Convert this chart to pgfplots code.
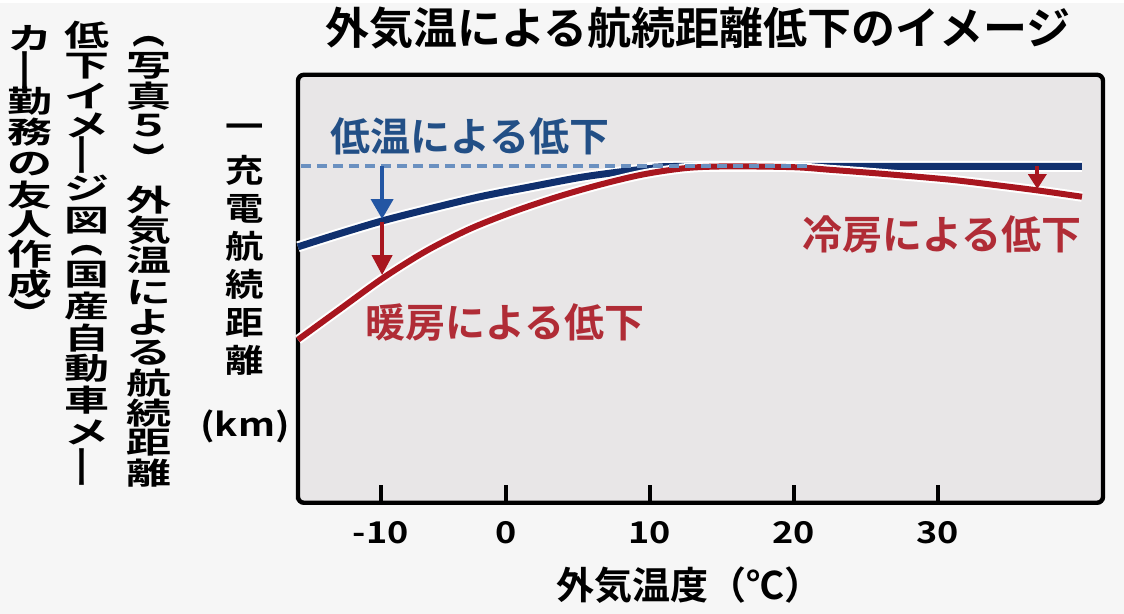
\documentclass[border=0pt]{standalone}
\usepackage{fontspec}
\usepackage{graphicx}
\usepackage{pgfplots}
\pgfplotsset{compat=1.18}
\usetikzlibrary{arrows.meta}
\setmainfont{Noto Sans CJK JP}[BoldFont={Noto Sans CJK JP Bold}]
\newfontfamily\jpwide{Noto Sans CJK JP}[BoldFont={Noto Sans CJK JP Bold},FakeStretch=1.5]
\newfontfamily\jpmid{Noto Sans CJK JP}[BoldFont={Noto Sans CJK JP Bold},FakeStretch=1.2]
\definecolor{outbg}{HTML}{F6F6F6}
\definecolor{plotbg}{HTML}{E8E6E7}
\definecolor{navy}{HTML}{10306E}
\definecolor{bluetext}{HTML}{224F86}
\definecolor{bluearrow}{HTML}{2356A3}
\definecolor{dashblue}{HTML}{6A90C0}
\definecolor{redline}{HTML}{A8161F}
\definecolor{redtext}{HTML}{B02C36}
\newcommand\vbar{\rotatebox[origin=c]{90}{ー}}
\newcommand\vlp{\rotatebox[origin=c]{-90}{(}}
\newcommand\vrp{\rotatebox[origin=c]{-90}{)}}
\pgfplotstableread{
x y
-14.44 59.8
-11.53 62.9
-8.54 65.9
-5.28 68.7
-1.81 71.5
1.67 73.8
5.14 76.0
7.92 77.3
10.69 78.3
13.47 78.6
40.0 78.6
}\lowtemp
\pgfplotstableread{
x y
-14.44 38.1
-11.5 45.3
-8.5 52.6
-5.5 58.9
-2.5 64.0
0.5 68.0
3.5 71.4
6.5 74.3
9.5 76.7
12.5 78.2
15.5 78.6
20.0 78.4
22.5 77.8
26.0 76.9
30.8 75.5
34.3 74.1
37.1 72.9
40.0 71.5
}\aircon
\begin{document}
\begin{tikzpicture}[x=1pt,y=1pt]
\fill[outbg] (-149,-55.5) rectangle (413,250);
\begin{axis}[
  at={(0,0)}, anchor=south west,
  scale only axis, width=402.5pt, height=214pt,
  xmin=-14.44, xmax=41.46, ymin=0, ymax=100,
  axis background/.style={fill=plotbg},
  axis line style={line width=2.2pt, rounded corners=3pt},
  xtick={-8.7,0,10,20,30},
  xticklabels={-10,0,10,20,30},
  ytick=\empty,
  xtick pos=bottom, tick align=inside,
  major tick length=9pt,
  every tick/.style={black, line width=2pt},
  xticklabel style={font=\jpmid\bfseries\fontsize{15}{15}\selectfont, anchor=center, yshift=-15pt},
  clip=false,
]
\addplot[white, line width=5.5pt, smooth] table {\lowtemp};
\addplot[navy, line width=3.5pt, smooth] table {\lowtemp};
\addplot[white, line width=5pt, smooth] table {\aircon};
\addplot[redline, line width=3pt, smooth] table {\aircon};
\addplot[dashblue, line width=1.6pt, dash pattern=on 5pt off 3pt] coordinates {(-14.2,78.7) (21,78.7)};
\draw[bluearrow, line width=2pt, -{Triangle[width=11pt,length=10pt]}] (axis cs:-8.6,78.7) -- (axis cs:-8.6,66.3);
\draw[redline, line width=2pt, -{Triangle[width=10pt,length=10pt]}] (axis cs:-8.6,65.5) -- (axis cs:-8.6,53.2);
\draw[redline, line width=2pt, -{Triangle[width=9pt,length=7.5pt]}] (axis cs:36.9,78.6) -- (axis cs:36.9,73.3);
\node[bluetext, font=\bfseries\fontsize{20}{20}\selectfont] at (axis cs:-2.5,85.7) {低温による低下};
\node[redtext, font=\bfseries\fontsize{20}{20}\selectfont] at (axis cs:-0.07,42.1) {暖房による低下};
\node[redtext, font=\bfseries\fontsize{20}{20}\selectfont] at (axis cs:30.3,62.6) {冷房による低下};
\end{axis}
% title
\node[font=\bfseries\fontsize{22}{22}\selectfont] at (200,237.5) {外気温による航続距離低下のイメージ};
% x label
\node[font=\bfseries\fontsize{19}{19}\selectfont] at (195.5,-41) {外気温度（℃）};
% y label
\foreach \y/\c in {128/一,168/充,206/電,244/航,282/続,320/距,358/離,424/(km)}
  \node[font=\jpmid\bfseries\fontsize{16}{16}\selectfont, inner sep=0pt] at (-26.5,{(500-\y)/2}) {\c};
% left vertical caption, right column
\foreach \y/\c in {39/\vlp,63/写,93/真,123/５,148/\vrp,197/外,227/気,257/温,290/に,320/よ,350/る,380/航,410/続,440/距,470/離}
  \node[font=\jpwide\bfseries\fontsize{15}{15}\selectfont, inner sep=0pt] at (-74.5,{(500-\y)/2}) {\c};
% middle column
\foreach \y/\c in {32/低,63/下,93/イ,123/メ,152/\vbar,185/ジ,218/図,248/\vlp,272/国,303/産,335/自,366/動,397/車,430/メ,464/\vbar}
  \node[font=\jpwide\bfseries\fontsize{15}{15}\selectfont, inner sep=0pt] at (-105.5,{(500-\y)/2}) {\c};
% left column
\foreach \y/\c in {35/カ,67/\vbar,98/勤,129/務,161/の,192/友,222/人,251/作,281/成,303/\vrp}
  \node[font=\jpwide\bfseries\fontsize{15}{15}\selectfont, inner sep=0pt] at (-134,{(500-\y)/2}) {\c};
\end{tikzpicture}
\end{document}
